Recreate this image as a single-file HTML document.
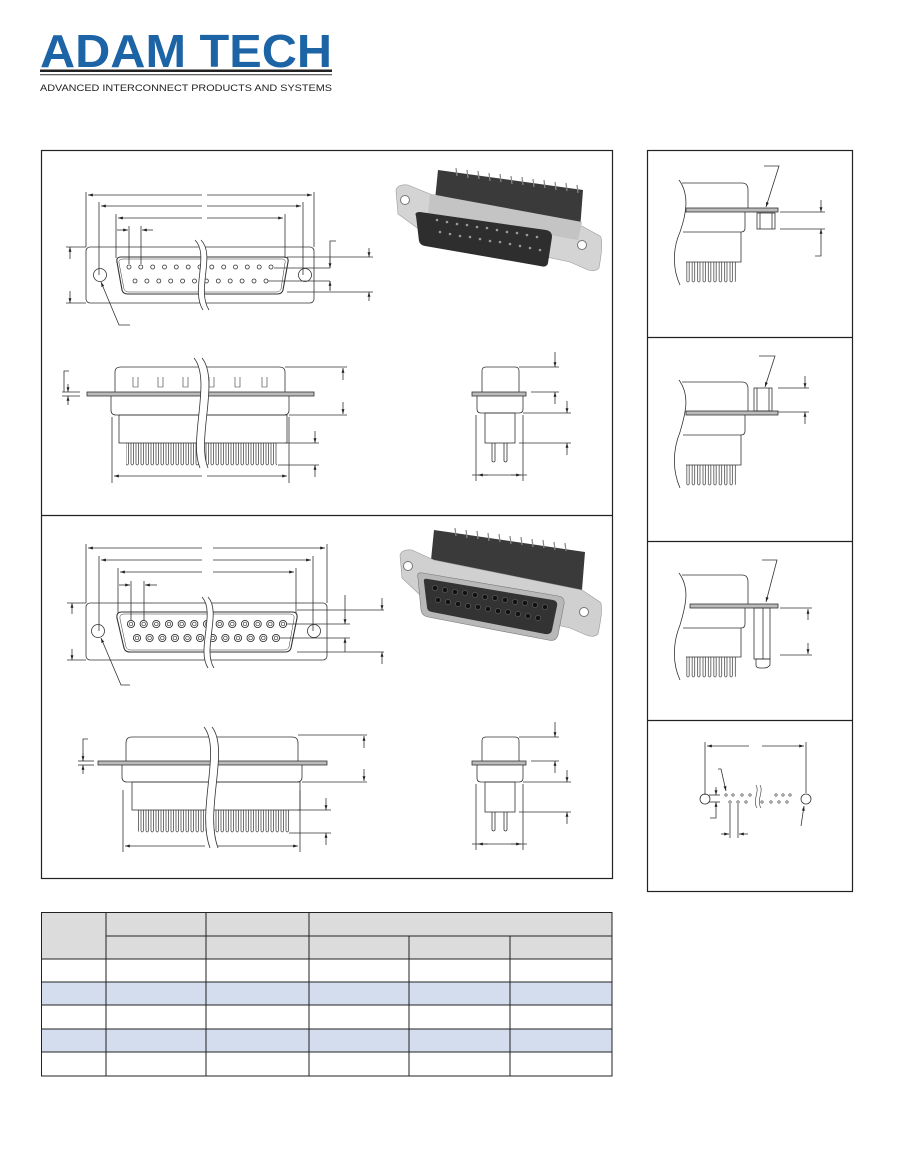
<!DOCTYPE html>
<html><head><meta charset="utf-8"><style>
html,body{margin:0;padding:0;background:#fff;}
svg{display:block;}
</style></head><body>
<svg width="918" height="1169" viewBox="0 0 918 1169" xmlns="http://www.w3.org/2000/svg" font-family="Liberation Sans, sans-serif">
<defs>
<marker id="a" viewBox="0 0 10 10" refX="10" refY="5" markerWidth="6" markerHeight="6" orient="auto-start-reverse"><path d="M0,2 L10,5 L0,8 z" fill="#222"/></marker>
<g id="pinM"><circle r="2" fill="none" stroke="#333" stroke-width="0.8"/></g>
<g id="pinF"><circle r="3.6" fill="none" stroke="#333" stroke-width="0.9"/><circle r="1.8" fill="none" stroke="#333" stroke-width="0.7"/></g>
<pattern id="p1" x="0" y="443" width="5" height="30" patternUnits="userSpaceOnUse"><path d="M1,0 V21 Q2.2,23 3.4,21 V0" fill="none" stroke="#333" stroke-width="0.7"/></pattern>
<pattern id="p2" x="0" y="810" width="5" height="30" patternUnits="userSpaceOnUse"><path d="M1,0 V21 Q2.2,23 3.4,21 V0" fill="none" stroke="#333" stroke-width="0.7"/></pattern>
<pattern id="p3" x="0" y="262" width="5.4" height="30" patternUnits="userSpaceOnUse"><path d="M1,0 V19 Q2.2,21 3.4,19 V0" fill="none" stroke="#333" stroke-width="0.7"/></pattern>
<pattern id="p4" x="0" y="465" width="5.4" height="30" patternUnits="userSpaceOnUse"><path d="M1,0 V19 Q2.2,21 3.4,19 V0" fill="none" stroke="#333" stroke-width="0.7"/></pattern>
<pattern id="p5" x="0" y="657" width="5.4" height="30" patternUnits="userSpaceOnUse"><path d="M1,0 V19 Q2.2,21 3.4,19 V0" fill="none" stroke="#333" stroke-width="0.7"/></pattern>
</defs>

<!-- LOGO -->
<text x="40" y="67" font-size="46" font-weight="bold" fill="#1c64a6" textLength="292" lengthAdjust="spacingAndGlyphs">ADAM TECH</text>
<rect x="40" y="69.5" width="292" height="2.5" fill="#222"/>
<rect x="40" y="74" width="292" height="1.3" fill="#666"/>
<text x="40" y="91" font-size="9.6" fill="#222" textLength="292" lengthAdjust="spacingAndGlyphs">ADVANCED INTERCONNECT PRODUCTS AND SYSTEMS</text>

<!-- FRAMES -->
<g fill="none" stroke="#222" stroke-width="1.2">
<rect x="41.5" y="150.5" width="571" height="728"/>
<line x1="41" y1="515.5" x2="612" y2="515.5"/>
<rect x="647.5" y="150.5" width="205" height="741"/>
<line x1="647" y1="337.5" x2="852" y2="337.5"/>
<line x1="647" y1="541.5" x2="852" y2="541.5"/>
<line x1="647" y1="720.5" x2="852" y2="720.5"/>
</g>

<g fill="none" stroke="#333" stroke-width="0.8">
<!-- ===== SECTION 1 FRONT VIEW ===== -->
<rect x="86" y="247" width="228" height="56" rx="4"/>
<circle cx="100" cy="275" r="6.5"/><circle cx="305" cy="275" r="6.5"/>
<path d="M121,257 H284 Q289,257 288,262 L283,290 Q282,294 277,294 H128 Q123,294 122,290 L117,262 Q116,257 121,257 Z" stroke-width="1.1"/>
<path d="M123,259 H282 Q286,259 285,263 L281,289 Q280,292 276,292 H129 Q125,292 124,289 L119,263 Q118,259 123,259 Z" stroke-width="0.5"/>
<g>
<use href="#pinM" x="129" y="267"/><use href="#pinM" x="140.8" y="267"/><use href="#pinM" x="152.7" y="267"/><use href="#pinM" x="164.5" y="267"/><use href="#pinM" x="176.3" y="267"/><use href="#pinM" x="188.2" y="267"/><use href="#pinM" x="200" y="267"/><use href="#pinM" x="211.8" y="267"/><use href="#pinM" x="223.7" y="267"/><use href="#pinM" x="235.5" y="267"/><use href="#pinM" x="247.3" y="267"/><use href="#pinM" x="259.2" y="267"/><use href="#pinM" x="271" y="267"/>
<use href="#pinM" x="135" y="281"/><use href="#pinM" x="146.9" y="281"/><use href="#pinM" x="158.8" y="281"/><use href="#pinM" x="170.7" y="281"/><use href="#pinM" x="182.6" y="281"/><use href="#pinM" x="194.5" y="281"/><use href="#pinM" x="206.4" y="281"/><use href="#pinM" x="218.3" y="281"/><use href="#pinM" x="230.2" y="281"/><use href="#pinM" x="242.1" y="281"/><use href="#pinM" x="254" y="281"/><use href="#pinM" x="266" y="281"/>
</g>
<path d="M195,240 C210,255 190,290 203,310 L209,310 C196,290 216,255 201,240 Z" fill="#fff" stroke="none"/>
<path d="M195,240 C210,255 190,290 203,310 M201,240 C216,255 196,290 209,310"/>
<line x1="86" y1="192" x2="86" y2="247"/><line x1="314" y1="192" x2="314" y2="247"/>
<line x1="88" y1="195" x2="202" y2="195" marker-start="url(#a)"/><line x1="207" y1="195" x2="312" y2="195" marker-end="url(#a)"/>
<line x1="99" y1="202" x2="99" y2="275"/><line x1="303" y1="202" x2="303" y2="275"/>
<line x1="101" y1="206" x2="202" y2="206" marker-start="url(#a)"/><line x1="207" y1="206" x2="301" y2="206" marker-end="url(#a)"/>
<line x1="116" y1="214" x2="116" y2="258"/><line x1="285" y1="214" x2="285" y2="258"/>
<line x1="118" y1="218" x2="202" y2="218" marker-start="url(#a)"/><line x1="207" y1="218" x2="283" y2="218" marker-end="url(#a)"/>
<line x1="129" y1="226" x2="129" y2="264"/><line x1="141" y1="226" x2="141" y2="264"/>
<line x1="117" y1="230" x2="128" y2="230" marker-end="url(#a)"/><line x1="153" y1="230" x2="142" y2="230" marker-end="url(#a)"/>
<line x1="66" y1="247" x2="86" y2="247"/><line x1="66" y1="303" x2="86" y2="303"/>
<line x1="70" y1="247" x2="70" y2="259" marker-start="url(#a)"/><line x1="70" y1="291" x2="70" y2="303" marker-end="url(#a)"/>
<line x1="287" y1="257" x2="373" y2="257"/><line x1="287" y1="292" x2="373" y2="292"/>
<line x1="274" y1="268" x2="330" y2="268"/><line x1="268" y1="281" x2="330" y2="281"/>
<path d="M336,241 H330 V268" /><line x1="330" y1="281" x2="330" y2="290"/>
<line x1="369" y1="248" x2="369" y2="257" marker-end="url(#a)"/><line x1="369" y1="301" x2="369" y2="292" marker-end="url(#a)"/>
<line x1="330" y1="258" x2="330" y2="268" marker-end="url(#a)"/><line x1="330" y1="291" x2="330" y2="281" marker-end="url(#a)"/>
<path d="M130,325 H119 L101,282" marker-end="url(#a)"/>

<!-- ===== SECTION 1 SIDE VIEW ===== -->
<path d="M115,393 V372 Q115,367 121,367 H279 Q285,367 285,372 V393"/>
<path d="M133,377 V387 H138 V377 M158,377 V387 H163 V377 M183,377 V387 H188 V377 M209,377 V387 H214 V377 M235,377 V387 H240 V377 M262,377 V387 H267 V377" stroke-width="0.6"/>
<rect x="87" y="392" width="227" height="4" fill="#bbb" stroke="#333"/>
<path d="M111,396 V410 Q111,415 116,415 H284 Q289,415 289,410 V396"/>
<rect x="119" y="415" width="168" height="28"/>
<rect x="126" y="443" width="151" height="24" fill="url(#p1)" stroke="none"/>
<path d="M194,358 C212,380 188,440 200,468 L208,468 C196,440 220,380 202,358 Z" fill="#fff" stroke="none"/>
<path d="M194,358 C212,380 188,440 200,468 M202,358 C220,380 196,440 208,468"/>
<line x1="285" y1="367" x2="347" y2="367"/><line x1="289" y1="415" x2="347" y2="415"/>
<line x1="343" y1="368" x2="343" y2="380" marker-start="url(#a)"/><line x1="343" y1="402" x2="343" y2="414" marker-end="url(#a)"/>
<line x1="285" y1="443" x2="319" y2="443"/><line x1="278" y1="465" x2="319" y2="465"/>
<line x1="315" y1="431" x2="315" y2="443" marker-end="url(#a)"/><line x1="315" y1="477" x2="315" y2="465" marker-end="url(#a)"/>
<path d="M69,371 H64 V392"/><line x1="62" y1="392" x2="80" y2="392"/><line x1="62" y1="396" x2="80" y2="396"/>
<line x1="68" y1="384" x2="68" y2="392" marker-end="url(#a)"/><line x1="68" y1="405" x2="68" y2="396" marker-end="url(#a)"/>
<line x1="112" y1="417" x2="112" y2="483"/><line x1="289" y1="417" x2="289" y2="483"/>
<line x1="114" y1="476" x2="202" y2="476" marker-start="url(#a)"/><line x1="207" y1="476" x2="287" y2="476" marker-end="url(#a)"/>

<!-- small side view 1 -->
<path d="M482,392 V371 Q482,367 486,367 H515 Q519,367 519,371 V392"/>
<rect x="472" y="392" width="54" height="4" fill="#bbb"/>
<path d="M477,396 V409 Q477,413 481,413 H519 Q523,413 523,409 V396"/>
<rect x="485" y="413" width="30" height="30"/>
<path d="M492,443 V461 Q493.5,463 495,461 V443 M504,443 V461 Q505.5,463 507,461 V443"/>
<line x1="519" y1="367" x2="559" y2="367"/><line x1="531" y1="392" x2="559" y2="392"/>
<line x1="555" y1="352" x2="555" y2="367" marker-end="url(#a)"/><line x1="555" y1="404" x2="555" y2="392" marker-end="url(#a)"/>
<line x1="523" y1="413" x2="571" y2="413"/><line x1="519" y1="443" x2="571" y2="443"/>
<line x1="567" y1="401" x2="567" y2="413" marker-end="url(#a)"/><line x1="567" y1="455" x2="567" y2="443" marker-end="url(#a)"/>
<line x1="476" y1="415" x2="476" y2="481"/><line x1="523" y1="415" x2="523" y2="481"/>
<line x1="472" y1="475" x2="527" y2="475"/>
<line x1="478" y1="475" x2="488" y2="475" marker-start="url(#a)"/><line x1="511" y1="475" x2="521" y2="475" marker-end="url(#a)"/>

<!-- ===== SECTION 2 FRONT VIEW ===== -->
<rect x="86" y="603" width="241" height="57" rx="4"/>
<circle cx="98" cy="631" r="6.5"/><circle cx="314" cy="631" r="6.5"/>
<path d="M122,612 H292 Q298,612 297,618 L291,648 Q290,652 285,652 H130 Q125,652 124,648 L117,618 Q116,612 122,612 Z" stroke-width="1.1"/>
<path d="M124,614 H290 Q295,614 294,619 L289,647 Q288,650 284,650 H131 Q127,650 126,647 L120,619 Q119,614 124,614 Z" stroke-width="0.5"/>
<g>
<use href="#pinF" x="131" y="624"/><use href="#pinF" x="143.7" y="624"/><use href="#pinF" x="156.3" y="624"/><use href="#pinF" x="169" y="624"/><use href="#pinF" x="181.7" y="624"/><use href="#pinF" x="194.3" y="624"/><use href="#pinF" x="207" y="624"/><use href="#pinF" x="219.7" y="624"/><use href="#pinF" x="232.3" y="624"/><use href="#pinF" x="245" y="624"/><use href="#pinF" x="257.7" y="624"/><use href="#pinF" x="270.3" y="624"/><use href="#pinF" x="283" y="624"/>
<use href="#pinF" x="137" y="638"/><use href="#pinF" x="149.6" y="638"/><use href="#pinF" x="162.3" y="638"/><use href="#pinF" x="174.9" y="638"/><use href="#pinF" x="187.5" y="638"/><use href="#pinF" x="200.1" y="638"/><use href="#pinF" x="212.8" y="638"/><use href="#pinF" x="225.4" y="638"/><use href="#pinF" x="238" y="638"/><use href="#pinF" x="250.6" y="638"/><use href="#pinF" x="263.3" y="638"/><use href="#pinF" x="276" y="638"/>
</g>
<path d="M202,597 C216,612 196,650 208,668 L214,668 C202,650 222,612 208,597 Z" fill="#fff" stroke="none"/>
<path d="M202,597 C216,612 196,650 208,668 M208,597 C222,612 202,650 214,668"/>
<line x1="86" y1="544" x2="86" y2="603"/><line x1="327" y1="544" x2="327" y2="603"/>
<line x1="88" y1="548" x2="202" y2="548" marker-start="url(#a)"/><line x1="213" y1="548" x2="325" y2="548" marker-end="url(#a)"/>
<line x1="99" y1="556" x2="99" y2="631"/><line x1="313" y1="556" x2="313" y2="631"/>
<line x1="101" y1="560" x2="202" y2="560" marker-start="url(#a)"/><line x1="213" y1="560" x2="311" y2="560" marker-end="url(#a)"/>
<line x1="118" y1="568" x2="118" y2="613"/><line x1="296" y1="568" x2="296" y2="613"/>
<line x1="120" y1="572" x2="202" y2="572" marker-start="url(#a)"/><line x1="213" y1="572" x2="294" y2="572" marker-end="url(#a)"/>
<line x1="131" y1="581" x2="131" y2="620"/><line x1="144" y1="581" x2="144" y2="620"/>
<line x1="119" y1="585" x2="130" y2="585" marker-end="url(#a)"/><line x1="157" y1="585" x2="145" y2="585" marker-end="url(#a)"/>
<line x1="67" y1="603" x2="86" y2="603"/><line x1="67" y1="660" x2="86" y2="660"/>
<line x1="72" y1="603" x2="72" y2="614" marker-start="url(#a)"/><line x1="72" y1="649" x2="72" y2="660" marker-end="url(#a)"/>
<line x1="297" y1="610" x2="384" y2="610"/><line x1="297" y1="652" x2="384" y2="652"/>
<line x1="287" y1="624" x2="350" y2="624"/><line x1="280" y1="638" x2="350" y2="638"/>
<line x1="345" y1="595" x2="345" y2="624" marker-end="url(#a)"/><line x1="345" y1="652" x2="345" y2="638" marker-end="url(#a)"/>
<line x1="382" y1="598" x2="382" y2="610" marker-end="url(#a)"/><line x1="382" y1="664" x2="382" y2="652" marker-end="url(#a)"/>
<path d="M130,685 H121 L101,638" marker-end="url(#a)"/>

<!-- ===== SECTION 2 SIDE VIEW ===== -->
<path d="M126,762 V743 Q126,737 132,737 H292 Q298,737 298,743 V762"/>
<rect x="98" y="761" width="229" height="4" fill="#bbb"/>
<path d="M122,765 V777 Q122,782 127,782 H297 Q302,782 302,777 V765"/>
<rect x="132" y="782" width="168" height="28"/>
<rect x="138" y="810" width="151" height="24" fill="url(#p2)" stroke="none"/>
<path d="M204,727 C222,750 196,810 210,848 L218,848 C204,810 230,750 212,727 Z" fill="#fff" stroke="none"/>
<path d="M204,727 C222,750 196,810 210,848 M212,727 C230,750 204,810 218,848"/>
<line x1="298" y1="735" x2="367" y2="735"/><line x1="302" y1="782" x2="367" y2="782"/>
<line x1="364" y1="736" x2="364" y2="748" marker-start="url(#a)"/><line x1="364" y1="769" x2="364" y2="781" marker-end="url(#a)"/>
<line x1="298" y1="810" x2="331" y2="810"/><line x1="289" y1="833" x2="331" y2="833"/>
<line x1="326" y1="798" x2="326" y2="810" marker-end="url(#a)"/><line x1="326" y1="845" x2="326" y2="833" marker-end="url(#a)"/>
<path d="M88,739 H83 V761"/><line x1="78" y1="761" x2="94" y2="761"/><line x1="78" y1="765" x2="94" y2="765"/>
<line x1="83" y1="753" x2="83" y2="761" marker-end="url(#a)"/><line x1="83" y1="774" x2="83" y2="765" marker-end="url(#a)"/>
<line x1="123" y1="790" x2="123" y2="852"/><line x1="300" y1="790" x2="300" y2="852"/>
<line x1="125" y1="846" x2="205" y2="846" marker-start="url(#a)"/><line x1="218" y1="846" x2="298" y2="846" marker-end="url(#a)"/>

<!-- small side view 2 -->
<path d="M482,761 V741 Q482,737 486,737 H515 Q519,737 519,741 V761"/>
<rect x="472" y="761" width="54" height="4" fill="#bbb"/>
<path d="M477,765 V778 Q477,782 481,782 H519 Q523,782 523,778 V765"/>
<rect x="485" y="782" width="30" height="30"/>
<path d="M492,812 V830 Q493.5,832 495,830 V812 M504,812 V830 Q505.5,832 507,830 V812"/>
<line x1="519" y1="737" x2="559" y2="737"/><line x1="531" y1="761" x2="559" y2="761"/>
<line x1="555" y1="722" x2="555" y2="737" marker-end="url(#a)"/><line x1="555" y1="773" x2="555" y2="761" marker-end="url(#a)"/>
<line x1="523" y1="782" x2="571" y2="782"/><line x1="519" y1="812" x2="571" y2="812"/>
<line x1="567" y1="770" x2="567" y2="782" marker-end="url(#a)"/><line x1="567" y1="824" x2="567" y2="812" marker-end="url(#a)"/>
<line x1="476" y1="784" x2="476" y2="850"/><line x1="523" y1="784" x2="523" y2="850"/>
<line x1="472" y1="844" x2="527" y2="844"/>
<line x1="478" y1="844" x2="488" y2="844" marker-start="url(#a)"/><line x1="511" y1="844" x2="521" y2="844" marker-end="url(#a)"/>

<!-- ===== RIGHT PANEL 1 ===== -->
<path d="M679,180 C690,195 686,215 680,232 C672,250 673,270 680,285" />
<path d="M682,183 H742 Q748,183 748,190 V208"/>
<rect x="686" y="208" width="92" height="4" fill="#bbb"/>
<path d="M745,212 V228 Q745,232 741,232 H683"/>
<path d="M741,232 V262 H686"/>
<rect x="686" y="262" width="50" height="22" fill="url(#p3)" stroke="none"/>
<rect x="757" y="213" width="18" height="16"/><line x1="760" y1="213" x2="760" y2="229"/><line x1="772" y1="213" x2="772" y2="229"/>
<path d="M764,166 H779 L766,207" marker-end="url(#a)"/>
<line x1="780" y1="212" x2="825" y2="212"/><line x1="780" y1="229" x2="825" y2="229"/>
<line x1="821" y1="200" x2="821" y2="212" marker-end="url(#a)"/><line x1="821" y1="241" x2="821" y2="229" marker-end="url(#a)"/>
<path d="M821,241 V256 H815"/>

<!-- ===== RIGHT PANEL 2 ===== -->
<path d="M679,380 C690,395 686,412 680,432 C672,452 673,472 680,488" />
<path d="M682,382 H742 Q748,382 748,389 V411"/>
<rect x="686" y="411" width="92" height="4" fill="#bbb"/>
<path d="M745,415 V431 Q745,435 741,435 H683"/>
<path d="M741,435 V465 H686"/>
<rect x="686" y="465" width="50" height="22" fill="url(#p4)" stroke="none"/>
<rect x="754" y="388" width="18" height="23"/><line x1="757" y1="388" x2="757" y2="411"/><line x1="769" y1="388" x2="769" y2="411"/>
<path d="M759,356 H775 L765,387" marker-end="url(#a)"/>
<line x1="778" y1="388" x2="809" y2="388"/><line x1="778" y1="412" x2="809" y2="412"/>
<line x1="805" y1="376" x2="805" y2="388" marker-end="url(#a)"/><line x1="805" y1="424" x2="805" y2="412" marker-end="url(#a)"/>

<!-- ===== RIGHT PANEL 3 ===== -->
<path d="M679,573 C690,588 686,605 680,625 C672,645 673,665 680,680" />
<path d="M682,575 H742 Q748,575 748,582 V604"/>
<rect x="690" y="604" width="88" height="4" fill="#bbb"/>
<path d="M745,608 V624 Q745,628 741,628 H683"/>
<path d="M741,628 V657 H686"/>
<rect x="686" y="657" width="50" height="22" fill="url(#p5)" stroke="none"/>
<rect x="754" y="608" width="16" height="51"/><line x1="763" y1="608" x2="763" y2="659"/>
<path d="M756,659 H770 V665 Q768,668 764,668 H760 Q756,668 756,665 Z"/>
<path d="M762,560 H777 L766,602" marker-end="url(#a)"/>
<line x1="780" y1="608" x2="812" y2="608"/><line x1="780" y1="655" x2="812" y2="655"/>
<line x1="808" y1="609" x2="808" y2="620" marker-start="url(#a)"/><line x1="808" y1="643" x2="808" y2="654" marker-end="url(#a)"/>

<!-- ===== RIGHT PANEL 4 ===== -->
<line x1="705" y1="742" x2="705" y2="795"/><line x1="806" y1="742" x2="806" y2="793"/>
<line x1="707" y1="746" x2="749" y2="746" marker-start="url(#a)"/><line x1="762" y1="746" x2="804" y2="746" marker-end="url(#a)"/>
<circle cx="705" cy="799" r="5"/><circle cx="806" cy="799" r="5"/>
<g stroke-width="0.6">
<circle cx="726" cy="795" r="1.2"/><circle cx="733" cy="795" r="1.2"/><circle cx="742" cy="795" r="1.2"/><circle cx="750" cy="795" r="1.2"/><circle cx="776" cy="795" r="1.2"/><circle cx="783" cy="795" r="1.2"/><circle cx="790" cy="795" r="1.2"/>
<circle cx="730" cy="802" r="1.2"/><circle cx="738" cy="802" r="1.2"/><circle cx="746" cy="802" r="1.2"/><circle cx="762" cy="802" r="1.2"/><circle cx="771" cy="802" r="1.2"/><circle cx="779" cy="802" r="1.2"/><circle cx="787" cy="802" r="1.2"/>
</g>
<path d="M756,785 C760,792 752,800 757,808 M760,785 C764,792 756,800 761,808" stroke-width="0.6"/>
<path d="M718,769 H721 L726,791" marker-end="url(#a)"/>
<line x1="709" y1="795" x2="720" y2="795"/><line x1="709" y1="802" x2="720" y2="802"/>
<line x1="716" y1="787" x2="716" y2="795" marker-end="url(#a)"/><line x1="716" y1="811" x2="716" y2="802" marker-end="url(#a)"/>
<path d="M716,811 V818 H710"/>
<line x1="730" y1="804" x2="730" y2="838"/><line x1="738" y1="804" x2="738" y2="838"/>
<line x1="721" y1="834" x2="729" y2="834" marker-end="url(#a)"/><line x1="748" y1="834" x2="739" y2="834" marker-end="url(#a)"/>
<line x1="801" y1="826" x2="804" y2="806" marker-end="url(#a)"/>
</g>

<!-- ===== PHOTO 1 (male) ===== -->
<g>
<path d="M438,170 L583,190 L580,230 L434,210 Z" fill="#3a3a3a"/>
<g stroke="#888" stroke-width="1.2">
<line x1="456" y1="168" x2="457" y2="176"/><line x1="467" y1="170" x2="468" y2="178"/><line x1="478" y1="171" x2="479" y2="179"/><line x1="489" y1="173" x2="490" y2="181"/><line x1="500" y1="174" x2="501" y2="182"/><line x1="511" y1="176" x2="512" y2="184"/><line x1="522" y1="177" x2="523" y2="185"/><line x1="533" y1="179" x2="534" y2="187"/><line x1="544" y1="180" x2="545" y2="188"/><line x1="555" y1="182" x2="556" y2="190"/><line x1="566" y1="183" x2="567" y2="191"/><line x1="577" y1="185" x2="578" y2="193"/>
</g>
<path d="M396,190 Q398,184 408,185 L430,194 L580,225 L600,236 Q604,240 599,268 Q596,272 588,270 L570,262 L420,230 L398,214 Z" fill="#d4d4d4" stroke="#999" stroke-width="0.6"/>
<path d="M430,194 L582,222 L578,240 L428,214 Z" fill="#c4c4c4"/>
<circle cx="405" cy="200" r="4.5" fill="#fff" stroke="#777"/>
<circle cx="582" cy="245" r="4.5" fill="#fff" stroke="#777"/>
<path d="M416,216 Q414,212 420,212 L546,230 Q552,231 552,237 L548,263 Q547,268 540,266 L425,246 Q420,245 419,241 Z" fill="#2e2e2e"/>
<g fill="#999">
<circle cx="437" cy="220" r="1.3"/><circle cx="447" cy="222" r="1.3"/><circle cx="457" cy="224" r="1.3"/><circle cx="467" cy="225" r="1.3"/><circle cx="477" cy="227" r="1.3"/><circle cx="487" cy="228" r="1.3"/><circle cx="497" cy="230" r="1.3"/><circle cx="507" cy="232" r="1.3"/><circle cx="517" cy="233" r="1.3"/><circle cx="527" cy="235" r="1.3"/><circle cx="537" cy="237" r="1.3"/>
<circle cx="440" cy="232" r="1.3"/><circle cx="450" cy="234" r="1.3"/><circle cx="460" cy="236" r="1.3"/><circle cx="470" cy="237" r="1.3"/><circle cx="480" cy="239" r="1.3"/><circle cx="490" cy="241" r="1.3"/><circle cx="500" cy="242" r="1.3"/><circle cx="510" cy="244" r="1.3"/><circle cx="520" cy="246" r="1.3"/><circle cx="530" cy="248" r="1.3"/><circle cx="540" cy="250" r="1.3"/>
</g>
</g>

<!-- ===== PHOTO 2 (female) ===== -->
<g>
<path d="M434,530 L585,552 L582,590 L430,570 Z" fill="#3a3a3a"/>
<g stroke="#888" stroke-width="1.2">
<line x1="455" y1="528" x2="456" y2="536"/><line x1="466" y1="530" x2="467" y2="538"/><line x1="477" y1="531" x2="478" y2="539"/><line x1="488" y1="533" x2="489" y2="541"/><line x1="499" y1="534" x2="500" y2="542"/><line x1="510" y1="536" x2="511" y2="544"/><line x1="521" y1="537" x2="522" y2="545"/><line x1="532" y1="539" x2="533" y2="547"/><line x1="543" y1="540" x2="544" y2="548"/><line x1="554" y1="542" x2="555" y2="550"/><line x1="565" y1="543" x2="566" y2="551"/>
</g>
<path d="M400,555 Q402,549 412,550 L434,560 L582,590 L600,602 Q604,606 598,634 Q594,638 586,635 L570,628 L420,595 L402,578 Z" fill="#d0d0d0" stroke="#999" stroke-width="0.6"/>
<circle cx="408" cy="566" r="4.5" fill="#fff" stroke="#777"/>
<circle cx="584" cy="612" r="4.5" fill="#fff" stroke="#777"/>
<path d="M418,578 Q416,572 423,573 L558,596 Q565,597 564,604 L558,635 Q556,642 548,640 L428,617 Q422,616 421,610 Z" fill="#b8b8b8" stroke="#777" stroke-width="0.6"/>
<path d="M424,582 Q423,578 428,579 L553,600 Q558,601 557,606 L552,630 Q551,635 545,634 L432,612 Q427,611 427,607 Z" fill="#333"/>
<g fill="#111" stroke="#666" stroke-width="0.6">
<circle cx="435" cy="588" r="2.6"/><circle cx="445" cy="590" r="2.6"/><circle cx="455" cy="592" r="2.6"/><circle cx="465" cy="593" r="2.6"/><circle cx="475" cy="595" r="2.6"/><circle cx="485" cy="597" r="2.6"/><circle cx="495" cy="598" r="2.6"/><circle cx="505" cy="600" r="2.6"/><circle cx="515" cy="602" r="2.6"/><circle cx="525" cy="603" r="2.6"/><circle cx="535" cy="605" r="2.6"/><circle cx="545" cy="607" r="2.6"/>
<circle cx="438" cy="600" r="2.6"/><circle cx="448" cy="602" r="2.6"/><circle cx="458" cy="604" r="2.6"/><circle cx="468" cy="606" r="2.6"/><circle cx="478" cy="607" r="2.6"/><circle cx="488" cy="609" r="2.6"/><circle cx="498" cy="611" r="2.6"/><circle cx="508" cy="612" r="2.6"/><circle cx="518" cy="614" r="2.6"/><circle cx="528" cy="616" r="2.6"/><circle cx="538" cy="618" r="2.6"/>
</g>
</g>

<!-- ===== TABLE ===== -->
<g>
<rect x="41" y="912" width="571" height="47" fill="#dcdcdc"/>
<rect x="41" y="982" width="571" height="23" fill="#d4ddee"/>
<rect x="41" y="1029" width="571" height="23" fill="#d4ddee"/>
<g stroke="#222" stroke-width="1" fill="none">
<rect x="41.5" y="912.5" width="570.5" height="163.5"/>
<line x1="106" y1="936" x2="612" y2="936"/>
<line x1="41" y1="959" x2="612" y2="959"/>
<line x1="41" y1="982" x2="612" y2="982"/>
<line x1="41" y1="1005" x2="612" y2="1005"/>
<line x1="41" y1="1029" x2="612" y2="1029"/>
<line x1="41" y1="1052" x2="612" y2="1052"/>
<line x1="106" y1="912" x2="106" y2="1076"/>
<line x1="206" y1="912" x2="206" y2="1076"/>
<line x1="309" y1="912" x2="309" y2="1076"/>
<line x1="409" y1="936" x2="409" y2="1076"/>
<line x1="510" y1="936" x2="510" y2="1076"/>
</g>
</g>
</svg>
</body></html>
